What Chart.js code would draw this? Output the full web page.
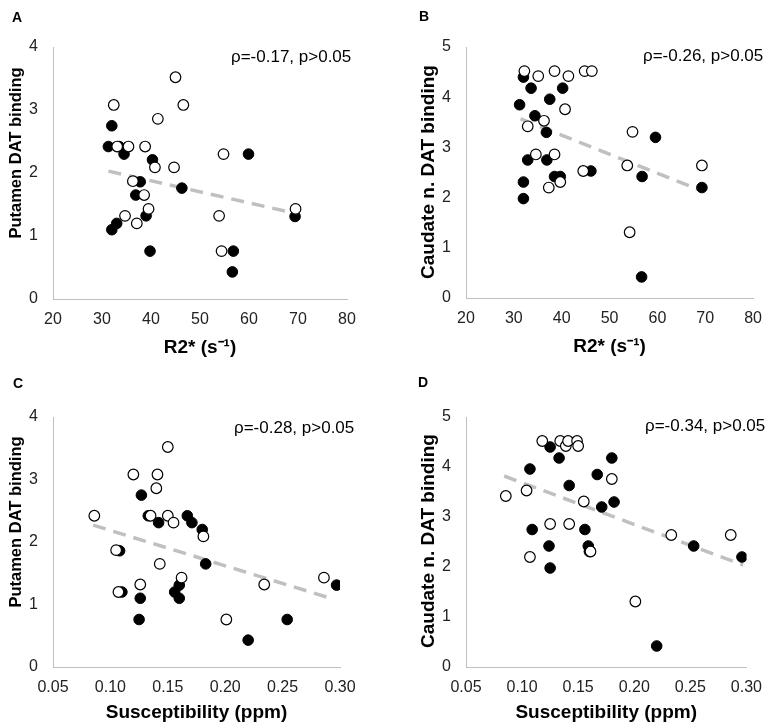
<!DOCTYPE html>
<html>
<head>
<meta charset="utf-8">
<script src="https://cdn.jsdelivr.net/npm/chart.js@4.4.1/dist/chart.umd.min.js"></script>
<style>
  body { margin: 0; background: #fff; font-family: "Liberation Sans", Arial, sans-serif; }
  #wrap { position: relative; width: 773px; height: 728px; overflow: hidden; }
  canvas { position: absolute; }
  .lbl { position: absolute; font-weight: bold; font-size: 14px; line-height: 1; color: #000; transform: translateY(-50%); }
  .rho { position: absolute; font-size: 17px; line-height: 1; color: #000; white-space: nowrap; transform: translateY(-50%); }
  .ytitle { position: absolute; font-weight: bold; line-height: 1; color: #000; white-space: nowrap;
            transform: translate(-50%, -50%) rotate(-90deg); }
</style>
</head>
<body>
<div id="wrap">
  <canvas id="cA" width="386" height="364" style="left:0;top:0"></canvas>
  <canvas id="cB" width="360" height="364" style="left:413px;top:0"></canvas>
  <canvas id="cC" width="386" height="364" style="left:0;top:364px"></canvas>
  <canvas id="cD" width="360" height="364" style="left:413px;top:364px"></canvas>

  <div class="lbl" style="left:12px;top:17px">A</div>
  <div class="lbl" style="left:419px;top:16px">B</div>
  <div class="lbl" style="left:13px;top:383px">C</div>
  <div class="lbl" style="left:418px;top:382px">D</div>

  <div class="ytitle" style="left:15px;top:153px;font-size:16.5px">Putamen DAT binding</div>
  <div class="ytitle" style="left:427px;top:172px;font-size:19px">Caudate n. DAT binding</div>
  <div class="ytitle" style="left:15px;top:522px;font-size:16.5px">Putamen DAT binding</div>
  <div class="ytitle" style="left:427px;top:541px;font-size:19px">Caudate n. DAT binding</div>

  <div class="rho" style="left:231px;top:56px">ρ=-0.17, p&gt;0.05</div>
  <div class="rho" style="left:643px;top:55px">ρ=-0.26, p&gt;0.05</div>
  <div class="rho" style="left:234px;top:427px">ρ=-0.28, p&gt;0.05</div>
  <div class="rho" style="left:645px;top:425px">ρ=-0.34, p&gt;0.05</div>
</div>

<script>
// tick labels
const r2Ticks = [20, 30, 40, 50, 60, 70, 80];
const susTicks = [0.05, 0.10, 0.15, 0.20, 0.25, 0.30];

// A: R2* vs putamen
const aOpen = [[45.0,3.52],[32.4,3.08],[46.6,3.08],[41.4,2.86],[33.1,2.42],[35.4,2.42],[38.8,2.42],[54.8,2.30],
  [40.8,2.09],[44.7,2.09],[36.3,1.87],[38.6,1.65],[39.5,1.43],[34.7,1.32],[37.1,1.20],[53.9,1.32],[54.4,0.76],[69.5,1.43]];
const aFilled = [[32.0,2.75],[31.3,2.42],[33.5,2.42],[34.5,2.30],[40.3,2.21],[37.8,1.86],[36.9,1.65],[46.3,1.76],
  [39.0,1.32],[33.0,1.20],[32.0,1.10],[39.8,0.76],[59.9,2.30],[56.8,0.76],[56.6,0.43],[69.4,1.31]];
const aTrend = [[31.3,2.03],[69.4,1.36]];

// B: R2* vs caudate
const bOpen = [[32.2,4.52],[35.1,4.42],[38.5,4.52],[41.4,4.42],[44.8,4.52],[46.3,4.52],[40.7,3.76],[36.3,3.53],
  [32.9,3.42],[54.8,3.31],[34.6,2.86],[38.5,2.86],[44.5,2.53],[53.7,2.64],[69.3,2.64],[37.3,2.20],[39.7,2.31],[54.2,1.31]];
const bFilled = [[32.0,4.40],[33.6,4.18],[40.2,4.18],[37.5,3.96],[31.2,3.85],[34.4,3.63],[36.8,3.30],[32.9,2.75],
  [36.9,2.75],[38.5,2.42],[39.7,2.42],[46.1,2.53],[32.0,2.31],[32.0,1.98],[59.6,3.20],[56.8,2.42],[56.7,0.42],[69.3,2.20]];
const bTrend = [[31.4,3.57],[69.1,2.14]];

// C: susceptibility vs putamen
const cOpen = [[0.150,3.52],[0.120,3.08],[0.141,3.08],[0.140,2.86],[0.086,2.42],[0.135,2.42],[0.150,2.42],[0.155,2.31],
  [0.181,2.09],[0.105,1.87],[0.143,1.65],[0.162,1.43],[0.126,1.32],[0.107,1.20],[0.234,1.32],[0.286,1.43],[0.201,0.76]];
const cFilled = [[0.127,2.75],[0.133,2.42],[0.142,2.31],[0.167,2.42],[0.171,2.31],[0.180,2.20],[0.108,1.86],[0.183,1.65],
  [0.160,1.31],[0.156,1.20],[0.160,1.10],[0.126,1.10],[0.110,1.20],[0.125,0.76],[0.254,0.76],[0.220,0.43],[0.297,1.31]];
const cTrend = [[0.085,2.27],[0.290,1.11]];

// D: susceptibility vs caudate
const dOpen = [[0.0855,3.42],[0.104,3.53],[0.118,4.52],[0.134,4.52],[0.139,4.42],[0.141,4.52],[0.149,4.52],[0.150,4.42],
  [0.180,3.76],[0.155,3.31],[0.125,2.86],[0.142,2.86],[0.107,2.20],[0.161,2.31],[0.233,2.64],[0.286,2.64],[0.201,1.31]];
const dFilled = [[0.125,4.40],[0.133,4.18],[0.180,4.18],[0.107,3.96],[0.167,3.85],[0.142,3.63],[0.182,3.30],[0.171,3.20],
  [0.109,2.75],[0.156,2.75],[0.124,2.42],[0.159,2.42],[0.160,2.31],[0.125,1.98],[0.253,2.42],[0.296,2.20],[0.220,0.42]];
const dTrend = [[0.084,3.82],[0.297,2.04]];

const FONT = '"Liberation Sans", Arial, sans-serif';
const AXIS = '#bfbfbf';
const toXY = arr => arr.map(p => ({ x: p[0], y: p[1] }));

function panel(id, p) {
  const ctx = document.getElementById(id);
  return new Chart(ctx, {
    type: 'scatter',
    data: {
      datasets: [
        { data: toXY(p.open), backgroundColor: '#fff', borderColor: '#000', borderWidth: 1.2, pointRadius: 5.3 },
        { data: toXY(p.filled), backgroundColor: '#000', borderColor: '#000', borderWidth: 1, pointRadius: 5.3 },
        { type: 'line', data: toXY(p.trend), borderColor: '#c0c0c0', borderWidth: 3.5, borderDash: [13, 8],
          pointRadius: 0, fill: false, tension: 0 }
      ]
    },
    options: {
      responsive: false,
      animation: false,
      events: [],
      layout: { padding: { left: 0, right: p.padRight, top: p.padTop, bottom: 0 } },
      plugins: { legend: { display: false }, tooltip: { enabled: false } },
      scales: {
        x: {
          type: 'linear', min: p.xTicks[0], max: p.xTicks[p.xTicks.length - 1],
          afterBuildTicks: s => { s.ticks = p.xTicks.map(v => ({ value: v })); },
          afterFit: s => { s.height = p.xHeight; },
          grid: { display: false, drawTicks: false },
          border: { display: true, color: AXIS, width: 1 },
          ticks: { padding: 11, color: '#222', font: { family: FONT, size: 16 }, maxRotation: 0, autoSkip: false,
                   callback: v => p.xFmt(v) },
          title: { display: true, text: p.xTitle, color: '#000', font: { family: FONT, size: 19, weight: 'bold' },
                   padding: { top: 0, bottom: p.titlePad } }
        },
        y: {
          min: 0, max: p.yMax,
          afterFit: s => { s.width = 53; },
          grid: { display: false, drawTicks: false },
          border: { display: true, color: AXIS, width: 1 },
          ticks: { stepSize: 1, padding: 15, color: '#222', font: { family: FONT, size: 16 } }
        }
      }
    }
  });
}

const r2Fmt = v => String(v);
const susFmt = v => v.toFixed(2);

panel('cA', { open: aOpen, filled: aFilled, trend: aTrend, xTicks: r2Ticks, xFmt: r2Fmt, yMax: 4,
  xTitle: 'R2* (s⁻¹)', padRight: 39, padTop: 47, xHeight: 65, titlePad: 4.5 });
panel('cB', { open: bOpen, filled: bFilled, trend: bTrend, xTicks: r2Ticks, xFmt: r2Fmt, yMax: 5,
  xTitle: 'R2* (s⁻¹)', padRight: 13, padTop: 47, xHeight: 66, titlePad: 5.5 });
panel('cC', { open: cOpen, filled: cFilled, trend: cTrend, xTicks: susTicks, xFmt: susFmt, yMax: 4,
  xTitle: 'Susceptibility (ppm)', padRight: 46, padTop: 53, xHeight: 61, titlePad: 3.5 });
panel('cD', { open: dOpen, filled: dFilled, trend: dTrend, xTicks: susTicks, xFmt: susFmt, yMax: 5,
  xTitle: 'Susceptibility (ppm)', padRight: 20, padTop: 53, xHeight: 61, titlePad: 3.5 });
</script>
</body>
</html>
